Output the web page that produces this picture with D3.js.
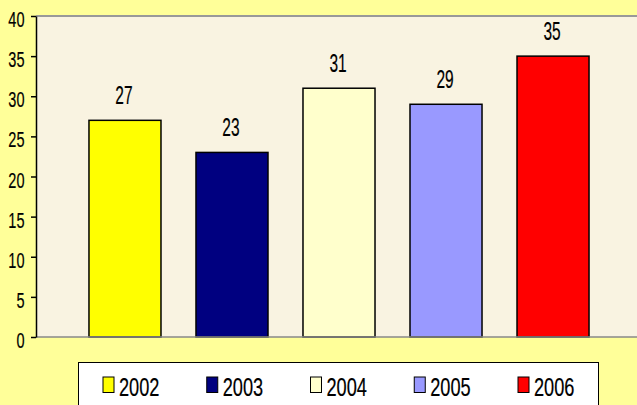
<!DOCTYPE html>
<html>
<head>
    <meta charset="UTF-8">
    <style>
        body { margin: 0; background-color: #ffff99; }
        svg { display: block; }
        text { font-family: "Liberation Sans", Arial, sans-serif; fill: #000; stroke: #000; stroke-width: 0.2px; }
    </style>
    <script src="https://cdn.jsdelivr.net/npm/d3@7"></script>
</head>
<body>
    <svg id="svg" width="637" height="405"></svg>
    <script>
        // data
        var years = ["2002", "2003", "2004", "2005", "2006"];
        var values = [27, 23, 31, 29, 35];
        var colors = ["#ffff00", "#000080", "#ffffcc", "#9999ff", "#ff0000"];
        var yTicks = [0, 5, 10, 15, 20, 25, 30, 35, 40];

        var svg = d3.select("#svg");
        var plot = {left: 36, right: 642, top: 16, bottom: 337};

        var x = d3.scaleBand()
            .domain(years)
            .range([plot.left, plot.right])
            .paddingInner(0.327)
            .paddingOuter(0.495);

        var y = d3.scaleLinear()
            .domain([0, 40])
            .range([plot.bottom, plot.top]);

        // plot area
        svg.append("rect")
            .attr("x", plot.left)
            .attr("y", plot.top)
            .attr("width", plot.right - plot.left)
            .attr("height", plot.bottom - plot.top)
            .attr("fill", "#f9f3e1");

        // top border
        svg.append("line")
            .attr("x1", plot.left).attr("x2", plot.right)
            .attr("y1", plot.top).attr("y2", plot.top)
            .attr("stroke", "#999").attr("stroke-width", 2);

        // bars
        svg.append("g").selectAll("rect")
            .data(years)
            .enter().append("rect")
            .attr("x", function(d){ return x(d); })
            .attr("y", function(d, i){ return y(values[i]); })
            .attr("width", x.bandwidth())
            .attr("height", function(d, i){ return y(0) - y(values[i]); })
            .attr("fill", function(d, i){ return colors[i]; })
            .attr("stroke", "#000")
            .attr("stroke-width", 1.5);

        // value labels (condensed look)
        svg.append("g").selectAll("g")
            .data(years)
            .enter().append("g")
            .attr("transform", function(d, i){
                return "translate(" + (x(d) + x.bandwidth() / 2 - 1) + "," + (y(values[i]) - 16.5) + ") scale(0.62,1)";
            })
            .append("text")
            .attr("text-anchor", "middle")
            .style("font-size", "25px")
            .text(function(d, i){ return values[i]; });

        // zero line
        svg.append("line")
            .attr("x1", plot.left).attr("x2", plot.right)
            .attr("y1", y(0)).attr("y2", y(0))
            .attr("stroke", "#888").attr("stroke-width", 1.5);

        // y axis
        var yAxis = svg.append("g")
            .attr("transform", "translate(" + plot.left + ",0)")
            .call(d3.axisLeft(y).tickValues(yTicks).tickSize(5).tickSizeOuter(0).tickFormat(""));
        yAxis.select(".domain").attr("stroke", "#000").attr("stroke-width", 1.5);
        yAxis.selectAll(".tick line").attr("stroke", "#000").attr("stroke-width", 1.5);

        svg.append("g").selectAll("g")
            .data(yTicks)
            .enter().append("g")
            .attr("transform", function(d){ return "translate(24.5," + (y(d) + 11) + ") scale(0.66,1)"; })
            .append("text")
            .attr("text-anchor", "end")
            .style("font-size", "22px")
            .text(function(d){ return d; });

        // legend
        var legend = svg.append("g");
        legend.append("rect")
            .attr("x", 78.5).attr("y", 362.5)
            .attr("width", 520).attr("height", 60)
            .attr("fill", "#fff")
            .attr("stroke", "#000").attr("stroke-width", 1);

        var lx = d3.scalePoint().domain(years).range([103, 518]);
        var items = legend.selectAll("g.item")
            .data(years)
            .enter().append("g")
            .attr("class", "item")
            .attr("transform", function(d){ return "translate(" + lx(d) + ",0)"; });
        items.append("rect")
            .attr("x", 0).attr("y", 377)
            .attr("width", 11).attr("height", 15.5)
            .attr("fill", function(d, i){ return colors[i]; })
            .attr("stroke", "#000").attr("stroke-width", 1);
        items.append("g")
            .attr("transform", "translate(16,396) scale(0.7,1)")
            .append("text")
            .style("font-size", "26px")
            .text(function(d){ return d; });
    </script>
</body>
</html>
